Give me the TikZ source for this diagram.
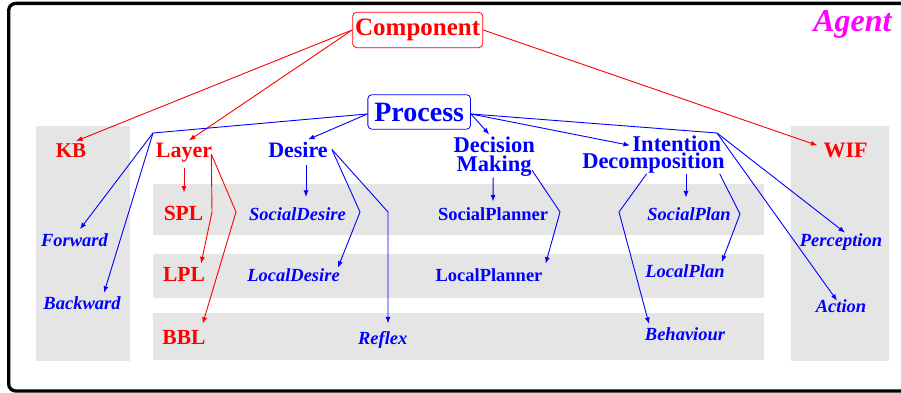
\documentclass[tikz,border=0pt]{standalone}
\usepackage{fontspec}
\setmainfont{Liberation Serif}
\usetikzlibrary{arrows.meta}
\definecolor{boxgray}{RGB}{229,229,229}
\definecolor{pblue}{RGB}{0,0,255}
\definecolor{pred}{RGB}{255,0,0}
\definecolor{pmag}{RGB}{255,0,255}
\begin{document}
\begin{tikzpicture}[x=1pt,y=-1pt,
  lbl/.style={anchor=base, inner sep=2pt},
  redbig/.style={lbl, text=pred, font=\fontsize{22}{24}\selectfont\bfseries},
  blueit/.style={lbl, text=pblue, font=\fontsize{18.5}{20}\selectfont\bfseries\itshape},
  bluebf/.style={lbl, text=pblue, font=\fontsize{18.5}{20}\selectfont\bfseries},
  rarrow/.style={draw=pred, line width=0.9pt, -{Latex[length=6.5pt,width=5pt]}},
  barrow/.style={draw=pblue, line width=0.9pt, -{Latex[length=6.5pt,width=5pt]}},
  panel/.style={fill=boxgray, draw=none}]
\useasboundingbox (0,0) rectangle (901,393);
\clip (0,0) rectangle (901,393);
% frame
\draw[line width=3.3pt, rounded corners=7pt] (8.7,3.4) rectangle (930,391);
% gray panels
\path[panel] (36,126) rectangle (130,361);
\path[panel] (791,126) rectangle (889,361);
\path[panel] (153,184) rectangle (764,235);
\path[panel] (153,254) rectangle (764,297.5);
\path[panel] (153,313) rectangle (764,360);
% title
\node[anchor=base, inner sep=0pt, text=pmag, font=\fontsize{32}{34}\selectfont\bfseries\itshape] (agent) at (852.5,31.7) {Agent};
% top boxes
\node[anchor=base, draw=pred, line width=0.8pt, rounded corners=4pt, text=pred,
      inner xsep=2.5pt, inner ysep=6.5pt, text height=17pt, text depth=5.5pt,
      font=\fontsize{25}{27}\selectfont\bfseries] (comp) at (417.7,35.7) {Component};
\node[anchor=base, draw=pblue, line width=0.8pt, rounded corners=4pt, text=pblue,
      inner xsep=6.5pt, inner ysep=7.5pt, text height=19.5pt, text depth=0pt,
      font=\fontsize{28}{30}\selectfont\bfseries] (proc) at (419.2,121.7) {Process};
% category labels
\node[redbig, font=\fontsize{21}{23}\selectfont\bfseries] (kb) at (71,157) {KB};
\node[redbig] (layer) at (184,157) {Layer};
\node[redbig] (wif) at (845.5,157) {WIF};
\node[lbl, text=pblue, font=\fontsize{22}{24}\selectfont\bfseries] (desire) at (298,157) {Desire};
\node[anchor=base, inner sep=0.5pt, align=center, text=pblue,
      font=\fontsize{22.5}{19.7}\selectfont\bfseries] (dm) at (494.2,171.7) {Decision\\Making};
\node[anchor=base, inner sep=0.5pt, align=right, text=pblue,
      font=\fontsize{22.5}{16.6}\selectfont\bfseries] (id) at (653.5,168.3) {Intention\hspace*{3.5pt}\\Decomposition};
% layer labels
\node[redbig, font=\fontsize{21.5}{23}\selectfont\bfseries] (spl) at (183.5,220) {SPL};
\node[redbig, font=\fontsize{21.5}{23}\selectfont\bfseries] (lpl) at (184,281.7) {LPL};
\node[redbig, font=\fontsize{21.5}{23}\selectfont\bfseries] (bbl) at (184,344) {BBL};
% leaves
\node[blueit] (forward) at (74.5,246.7) {Forward};
\node[blueit] (backward) at (82,309.3) {Backward};
\node[blueit] (sdesire) at (297.5,220) {SocialDesire};
\node[blueit] (ldesire) at (293.5,281.7) {LocalDesire};
\node[blueit] (reflex) at (382.7,344) {Reflex};
\node[bluebf] (splanner) at (493,220) {SocialPlanner};
\node[bluebf] (lplanner) at (489,281.7) {LocalPlanner};
\node[blueit] (splan) at (689,220) {SocialPlan};
\node[blueit] (lplan) at (685,277) {LocalPlan};
\node[blueit] (behaviour) at (685,340) {Behaviour};
\node[blueit] (perception) at (841,246.7) {Perception};
\node[blueit] (action) at (841,312.7) {Action};
% corner coordinates
\coordinate (cL) at (153,133);
\coordinate (cR) at (717,133);
\coordinate (lay1) at (212,212);
\coordinate (lay2) at (236,212);
\coordinate (des1) at (360,212);
\coordinate (des2) at (388,212);
\coordinate (mak1) at (560,212);
\coordinate (dec1) at (619,212);
\coordinate (dec2) at (740,214);
% red connectors
\draw[rarrow] (comp.west) -- ([xshift=5pt]kb.north);
\draw[rarrow] (comp.west) -- ([xshift=5pt]layer.north);
\draw[rarrow] (comp.east) -- ([xshift=-4pt,yshift=-5pt]wif.north west);
\draw[rarrow] ([yshift=-4pt]layer.south) -- ([xshift=0.5pt,yshift=11pt]spl.north);
\draw[rarrow] ([xshift=-3pt,yshift=-2pt]layer.east) -- (lay1) -- ([xshift=-6pt,yshift=2pt]lpl.north east);
\draw[rarrow] ([xshift=-3pt,yshift=-2pt]layer.east) -- (lay2) -- ([xshift=-5pt,yshift=4pt]bbl.north east);
% blue connectors
\draw[barrow] ([yshift=-2pt]proc.west) -- (cL) -- ([xshift=5.5pt,yshift=2.5pt]forward.north);
\draw[barrow] (cL) -- ([xshift=22pt,yshift=1.5pt]backward.north);
\draw[barrow] ([yshift=-2pt]proc.west) -- ([xshift=10pt]desire.north);
\draw[barrow] ([xshift=8pt,yshift=-6pt]desire.south) -- ([xshift=8.5pt,yshift=8pt]sdesire.north);
\draw[barrow] ([xshift=2pt]desire.east) -- (des1) -- ([xshift=-4pt,yshift=-1pt]ldesire.north east);
\draw[barrow] ([xshift=2pt]desire.east) -- (des2) -- ([xshift=5.3pt,yshift=5.4pt]reflex.north);
\draw[barrow] ([yshift=-2pt]proc.east) -- ([xshift=-5pt,yshift=1.3pt]dm.north);
\draw[barrow] ([yshift=-2pt]proc.east) -- ([xshift=-23.5pt,yshift=-10pt]id.north);
\draw[barrow] ([yshift=-2pt]proc.east) -- (cR) -- ([xshift=4pt,yshift=-1pt]perception.north);
\draw[barrow] (cR) -- ([xshift=-4pt,yshift=-3pt]action.north);
\draw[barrow] ([xshift=-1pt]dm.south) -- ([yshift=3.5pt]splanner.north);
\draw[barrow] ([xshift=-3.4pt,yshift=7pt]dm.south east) -- (mak1) -- ([xshift=1pt,yshift=3pt]lplanner.north east);
\draw[barrow] ([xshift=32.5pt]id.south) -- ([xshift=-3pt,yshift=7.5pt]splan.north);
\draw[barrow] ([xshift=-6.8pt]id.south) -- (dec1) -- ([xshift=-36pt,yshift=1pt]behaviour.north);
\draw[barrow] ([xshift=-5.8pt]id.south east) -- (dec2) -- ([xshift=-5pt]lplan.north east);
\end{tikzpicture}
\end{document}
